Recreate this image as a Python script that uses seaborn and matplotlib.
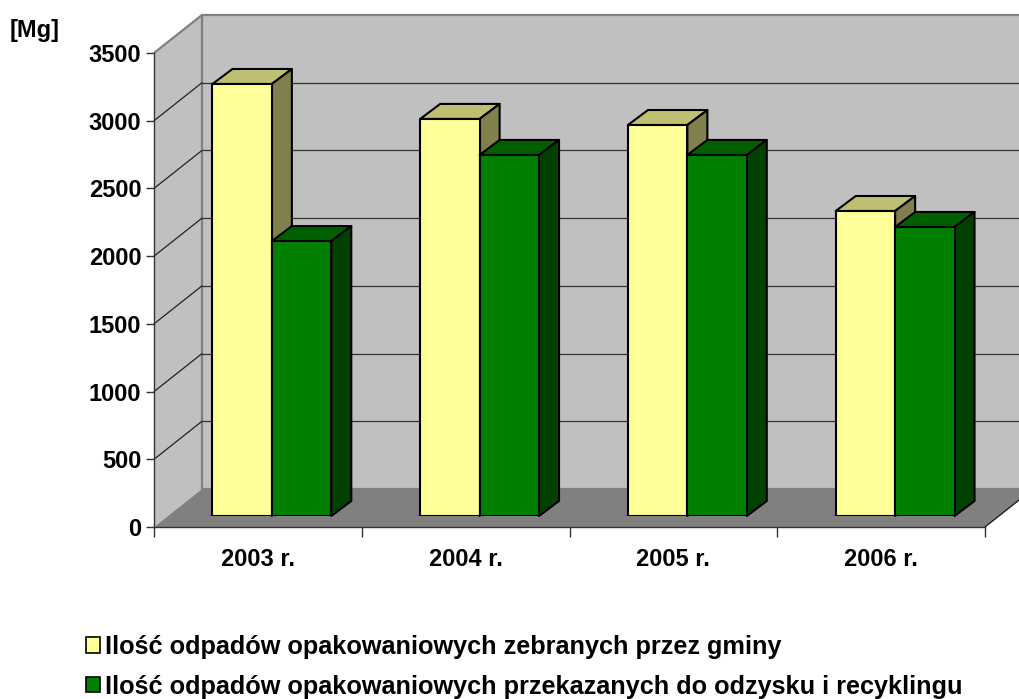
import pandas as pd
import seaborn as sns
import matplotlib.pyplot as plt
from matplotlib.patches import Polygon, Patch

years = ['2003 r.', '2004 r.', '2005 r.', '2006 r.']
zebrane = [3190, 2932, 2887, 2252]
przekazane = [2030, 2666, 2666, 2134]
yticks = [0, 500, 1000, 1500, 2000, 2500, 3000, 3500]
label_zebrane = 'Ilość odpadów opakowaniowych zebranych przez gminy'
label_przekazane = 'Ilość odpadów opakowaniowych przekazanych do odzysku i recyklingu'

W, H = 1019, 699
YELLOW, GREEN = '#FFFF99', '#008000'

sns.set_theme(style='ticks')
plt.rcParams['font.family'] = ['Liberation Sans', 'DejaVu Sans']
plt.rcParams['font.weight'] = 'bold'
plt.rcParams['text.color'] = 'black'
plt.rcParams['xtick.labelcolor'] = 'black'
plt.rcParams['ytick.labelcolor'] = 'black'

fig = plt.figure(figsize=(W / 100, H / 100), dpi=100)

def place(left, right, top, bottom):
    return [left / W, 1 - bottom / H, (right - left) / W, (bottom - top) / H]

# front plane has the axis, bars sit a bit deeper
ax = fig.add_axes(place(154, 985, 53, 527))
ax_bar = fig.add_axes(place(168, 999, 42, 516))

ax.set_xlim(-0.5, 3.5)
ax.set_ylim(0, 3500)
px_x = 4 / 831
px_y = 3500 / 474
back_x, back_y = 48 * px_x, 38 * px_y
depth_x, depth_y = 20 * px_x, 15 * px_y

# walls and floor
ax.add_patch(Polygon([(-0.5, 0), (-0.5, 3500), (-0.5 + back_x, 3500 + back_y), (-0.5 + back_x, back_y)],
                     fc='#C0C0C0', ec='none', clip_on=False, zorder=0))
ax.add_patch(Polygon([(-0.5 + back_x, back_y), (-0.5 + back_x, 3500 + back_y), (3.5 + back_x, 3500 + back_y), (3.5 + back_x, back_y)],
                     fc='#C0C0C0', ec='none', clip_on=False, zorder=0))
ax.add_patch(Polygon([(-0.5, 0), (3.5, 0), (3.5 + back_x, back_y), (-0.5 + back_x, back_y)],
                     fc='#808080', ec='none', clip_on=False, zorder=0.5))
for v in yticks[1:-1]:
    ax.plot([-0.5, -0.5 + back_x], [v, v + back_y], color='#222222', lw=0.9, clip_on=False, zorder=1)
    ax.plot([-0.5 + back_x, 3.5 + back_x], [v + back_y, v + back_y], color='#333333', lw=0.9, clip_on=False, zorder=1)
ax.plot([-0.5, -0.5 + back_x, 3.5 + back_x], [3500, 3500 + back_y, 3500 + back_y], color='#808080', lw=1.6, clip_on=False, zorder=1)
ax.plot([-0.5 + back_x, -0.5 + back_x, 3.5 + back_x], [3500 + back_y, back_y, back_y], color='#808080', lw=1.6, clip_on=False, zorder=0.6)
ax.plot([3.5, 3.5 + back_x], [0, back_y], color='#111111', lw=0.9, clip_on=False, zorder=1)

for side in ['top', 'right']:
    ax.spines[side].set_visible(False)
for side in ['left', 'bottom']:
    ax.spines[side].set_color('#333333')
    ax.spines[side].set_linewidth(1)

ax.set_yticks(yticks)
ax.set_xticks([-0.5, 0.5, 1.5, 2.5, 3.5])
ax.set_xticklabels([])
ax.set_xticks([0, 1, 2, 3], minor=True)
ax.set_xticklabels(years, minor=True)
ax.tick_params(axis='x', which='major', length=7, width=1, color='#333333')
ax.tick_params(axis='x', which='minor', length=0, pad=15, labelsize=17)
ax.tick_params(axis='y', length=6, width=1, color='#333333', pad=3, labelsize=17)

# bars
df = pd.DataFrame({'rok': years * 2,
                   'ilosc': zebrane + przekazane,
                   'seria': ['zebrane'] * 4 + ['przekazane'] * 4})
sns.barplot(data=df, x='rok', y='ilosc', hue='seria', palette=[YELLOW, GREEN], width=0.572, gap=0,
            saturation=1, edgecolor='black', linewidth=1.5, legend=False, ax=ax_bar)
ax_bar.set_xlim(-0.5, 3.5)
ax_bar.set_ylim(0, 3500)
ax_bar.axis('off')

shades = [('#BFBF73', '#80804D'), ('#006000', '#004000')]
for n, cont in enumerate(ax_bar.containers):
    top_c, side_c = shades[n]
    for bar in cont:
        x0, w, h = bar.get_x(), bar.get_width(), bar.get_height()
        x1 = x0 + w
        bar.set_zorder(2 * n + 3)
        ax_bar.add_patch(Polygon([(x0, h), (x1, h), (x1 + depth_x, h + depth_y), (x0 + depth_x, h + depth_y)],
                                 fc=top_c, ec='black', lw=1.5, joinstyle='round', clip_on=False, zorder=2 * n + 2))
        ax_bar.add_patch(Polygon([(x1, 0), (x1 + depth_x, depth_y), (x1 + depth_x, h + depth_y), (x1, h)],
                                 fc=side_c, ec='black', lw=1.5, joinstyle='round', clip_on=False, zorder=2 * n + 2))

fig.text(10 / W, 1 - 31 / H, '[Mg]', fontsize=17, fontweight='bold', va='center', ha='left')

handles = [Patch(fc=YELLOW, ec='black', lw=1.2), Patch(fc=GREEN, ec='black', lw=1.2)]
fig.legend(handles, [label_zebrane, label_przekazane], loc='upper left', bbox_to_anchor=(86 / W, 1 - 635 / H),
           frameon=False, fontsize=18.2, handlelength=0.55, handleheight=0.55, handletextpad=0.2,
           labelspacing=0.62, borderaxespad=0, borderpad=0)

fig.savefig('out.png', dpi=100)
